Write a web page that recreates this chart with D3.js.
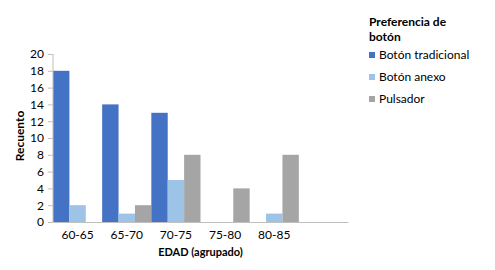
<!DOCTYPE html>
<html>
<head>
<meta charset="utf-8">
<script src="https://cdn.jsdelivr.net/npm/d3@7"></script>
<style>
  body { margin: 0; background: #fff; }
  svg text { font-family: Lato, "Open Sans", sans-serif; fill: #000; }
</style>
</head>
<body>
<div class="chart"></div>
<script>
// age groups; the last slot is empty in the original chart
const categories = ["60-65", "65-70", "70-75", "75-80", "80-85", ""];
const seriesNames = ["Botón tradicional", "Botón anexo", "Pulsador"];
const tradicional = [18, 14, 13, 0, 0, null];
const anexo = [2, 1, 5, 0, 1, null];
const pulsador = [0, 2, 8, 4, 8, null];
const yTicks = [0, 2, 4, 6, 8, 10, 12, 14, 16, 18, 20];
const colors = ["#4472C4", "#9DC3E6", "#A5A5A5"];

const series = [tradicional, anexo, pulsador];

const margin = { top: 54, right: 147, bottom: 48, left: 53 };
const width = 495 - margin.left - margin.right;
const height = 270 - margin.top - margin.bottom;

const rows = categories.map((c, i) => ({
  cat: c,
  values: series.map((s, j) => ({ key: seriesNames[j], value: s[i] })),
}));

const x0 = d3.scaleBand().domain(categories).range([0, width]).padding(0);
const x1 = d3.scaleBand().domain(seriesNames).range([0, x0.bandwidth()]).padding(0);
const y = d3.scaleLinear().domain([0, 20]).range([height, 0]);
const color = d3.scaleOrdinal().domain(seriesNames).range(colors);

const svg = d3
  .select(".chart")
  .append("svg")
  .attr("width", 495)
  .attr("height", 270);

const g = svg
  .append("g")
  .attr("transform", "translate(" + margin.left + "," + margin.top + ")");

// bars
g.selectAll(".grp")
  .data(rows)
  .enter()
  .append("g")
  .attr("class", "grp")
  .attr("transform", (d) => "translate(" + x0(d.cat) + ",0)")
  .selectAll("rect")
  .data((d) => d.values.filter((v) => v.value))
  .enter()
  .append("rect")
  .attr("x", (d) => x1(d.key))
  .attr("y", (d) => y(d.value))
  .attr("width", x1.bandwidth())
  .attr("height", (d) => height - y(d.value))
  .attr("fill", (d) => color(d.key));

// y axis
const yAxis = g
  .append("g")
  .call(d3.axisLeft(y).tickValues(yTicks).tickSize(5).tickPadding(4));
yAxis.selectAll("line").attr("stroke", "#bfbfbf");
yAxis.select(".domain").attr("stroke", "#bfbfbf").attr("d", "M0," + height + "V0");
yAxis.selectAll("text").style("font-size", "12px").attr("fill", "#000");

// x axis
const xAxis = g
  .append("g")
  .attr("transform", "translate(0," + height + ")")
  .call(d3.axisBottom(x0).tickSize(0).tickPadding(8));
xAxis.select(".domain").attr("stroke", "#bfbfbf");
xAxis.selectAll("text").style("font-size", "12px").attr("fill", "#000");

// axis titles
g.append("text")
  .attr("x", width / 2)
  .attr("y", height + 34)
  .attr("text-anchor", "middle")
  .style("font-size", "11px")
  .style("font-weight", "bold")
  .text("EDAD (agrupado)");

g.append("text")
  .attr("transform", "rotate(-90)")
  .attr("x", -(height / 2) + 2)
  .attr("y", -29)
  .attr("text-anchor", "middle")
  .style("font-size", "12px")
  .style("font-weight", "bold")
  .text("Recuento");

// legend
const legend = svg.append("g").attr("transform", "translate(369,0)");
legend
  .append("text")
  .attr("x", 0)
  .attr("y", 26)
  .style("font-size", "12px")
  .style("font-weight", "bold")
  .text("Preferencia de");
legend
  .append("text")
  .attr("x", 0)
  .attr("y", 41)
  .style("font-size", "12px")
  .style("font-weight", "bold")
  .text("botón");

const item = legend
  .selectAll(".item")
  .data(seriesNames)
  .enter()
  .append("g")
  .attr("class", "item")
  .attr("transform", (d, i) => "translate(0," + (55 + i * 22) + ")");
item
  .append("rect")
  .attr("x", 0)
  .attr("y", -3)
  .attr("width", 6)
  .attr("height", 6)
  .attr("fill", (d) => color(d));
item
  .append("text")
  .attr("x", 10)
  .attr("dy", "0.35em")
  .style("font-size", "12px")
  .text((d) => d);
</script>
</body>
</html>
